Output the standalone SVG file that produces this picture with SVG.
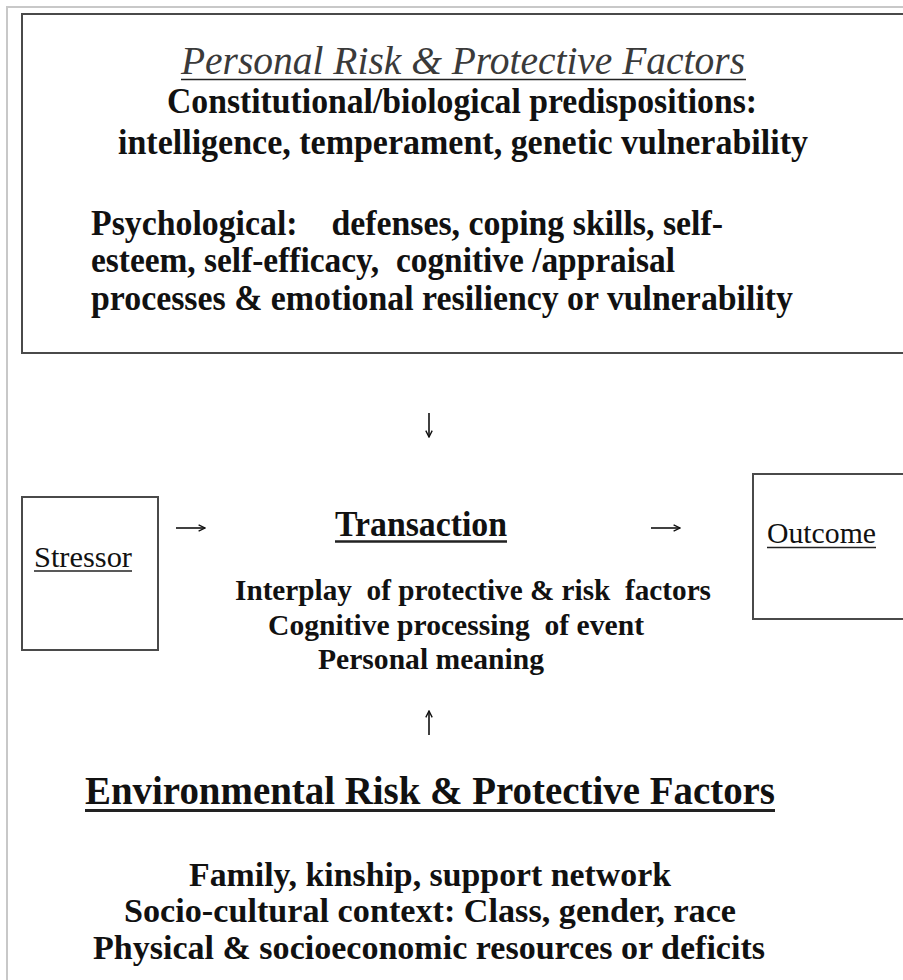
<svg xmlns="http://www.w3.org/2000/svg" width="903" height="980" viewBox="0 0 903 980">
<defs>
<style>
.frame{fill:none;stroke:#c8c8c8;stroke-width:2}
.box{fill:#fff;stroke:#4a4a4a;stroke-width:2}
.t{font-family:"Liberation Serif","Times New Roman",serif;fill:#111;white-space:pre}
.b{font-weight:bold}
.it{font-style:italic;fill:#3a3a3a}
.ul{stroke:#222;fill:none}
.arr{stroke:#111;stroke-width:1.6;fill:none}
</style>
<marker id="ah" viewBox="0 0 10 10" refX="9" refY="5" markerWidth="8" markerHeight="8" markerUnits="userSpaceOnUse" orient="auto">
<path d="M1,1 L9,5 L1,9" fill="none" stroke="#111" stroke-width="1.7"/>
</marker>
</defs>
<rect width="903" height="980" fill="#fff"/>
<rect class="frame" x="7" y="7" width="920" height="990"/>

<g id="personal">
<rect class="box" x="22" y="14" width="910" height="339"/>
<text class="t it" x="463" y="74" font-size="41" text-anchor="middle" textLength="564" lengthAdjust="spacingAndGlyphs">Personal Risk &amp; Protective Factors</text>
<line class="ul" x1="181" y1="79.5" x2="746" y2="79.5" stroke-width="1.5" stroke="#444"/>
<text class="t b" x="462" y="113" font-size="35" text-anchor="middle" textLength="590" lengthAdjust="spacingAndGlyphs">Constitutional/biological predispositions:</text>
<text class="t b" x="463" y="154" font-size="35" text-anchor="middle" textLength="690" lengthAdjust="spacingAndGlyphs">intelligence, temperament, genetic vulnerability</text>
<text class="t b" x="91" y="235" font-size="35" textLength="632" lengthAdjust="spacingAndGlyphs" xml:space="preserve">Psychological:    defenses, coping skills, self-</text>
<text class="t b" x="91" y="272" font-size="35" textLength="584" lengthAdjust="spacingAndGlyphs" xml:space="preserve">esteem, self-efficacy,  cognitive /appraisal</text>
<text class="t b" x="91" y="310" font-size="35" textLength="702" lengthAdjust="spacingAndGlyphs">processes &amp; emotional resiliency or vulnerability</text>
</g>

<g id="stressor">
<rect class="box" x="22" y="497" width="136" height="153" stroke-width="1.5"/>
<text class="t" x="34" y="567" font-size="30" textLength="98" lengthAdjust="spacingAndGlyphs">Stressor</text>
<line class="ul" x1="34" y1="571" x2="132" y2="571" stroke-width="1.5"/>
</g>

<g id="transaction">
<text class="t b" x="421" y="536" font-size="36" text-anchor="middle" textLength="172" lengthAdjust="spacingAndGlyphs">Transaction</text>
<line class="ul" x1="335" y1="541.5" x2="507" y2="541.5" stroke-width="2.5"/>
<text class="t b" x="473" y="600" font-size="30" text-anchor="middle" textLength="476" lengthAdjust="spacingAndGlyphs" xml:space="preserve">Interplay  of protective &amp; risk  factors</text>
<text class="t b" x="456" y="635" font-size="30" text-anchor="middle" textLength="376" lengthAdjust="spacingAndGlyphs" xml:space="preserve">Cognitive processing  of event</text>
<text class="t b" x="431" y="669" font-size="30" text-anchor="middle" textLength="226" lengthAdjust="spacingAndGlyphs">Personal meaning</text>
</g>

<g id="outcome">
<rect class="box" x="753" y="474" width="200" height="145" stroke-width="1.5"/>
<text class="t" x="767" y="543" font-size="30" textLength="109" lengthAdjust="spacingAndGlyphs">Outcome</text>
<line class="ul" x1="767" y1="547.5" x2="876" y2="547.5" stroke-width="1.5"/>
</g>

<g id="environmental">
<text class="t b" x="430" y="804" font-size="40" text-anchor="middle" textLength="690" lengthAdjust="spacingAndGlyphs">Environmental Risk &amp; Protective Factors</text>
<line class="ul" x1="85" y1="810.5" x2="775" y2="810.5" stroke-width="3"/>
<text class="t b" x="430" y="886" font-size="34" text-anchor="middle" textLength="482" lengthAdjust="spacingAndGlyphs">Family, kinship, support network</text>
<text class="t b" x="430" y="922" font-size="34" text-anchor="middle" textLength="612" lengthAdjust="spacingAndGlyphs">Socio-cultural context: Class, gender, race</text>
<text class="t b" x="429" y="959" font-size="34" text-anchor="middle" textLength="672" lengthAdjust="spacingAndGlyphs">Physical &amp; socioeconomic resources or deficits</text>
</g>

<g id="connectors">
<path class="arr" d="M429,413 L429,437" marker-end="url(#ah)"/>
<path class="arr" d="M176,528 L205,528" marker-end="url(#ah)"/>
<path class="arr" d="M651,528 L680,528" marker-end="url(#ah)"/>
<path class="arr" d="M429,735 L429,711" marker-end="url(#ah)"/>
</g>
</svg>
